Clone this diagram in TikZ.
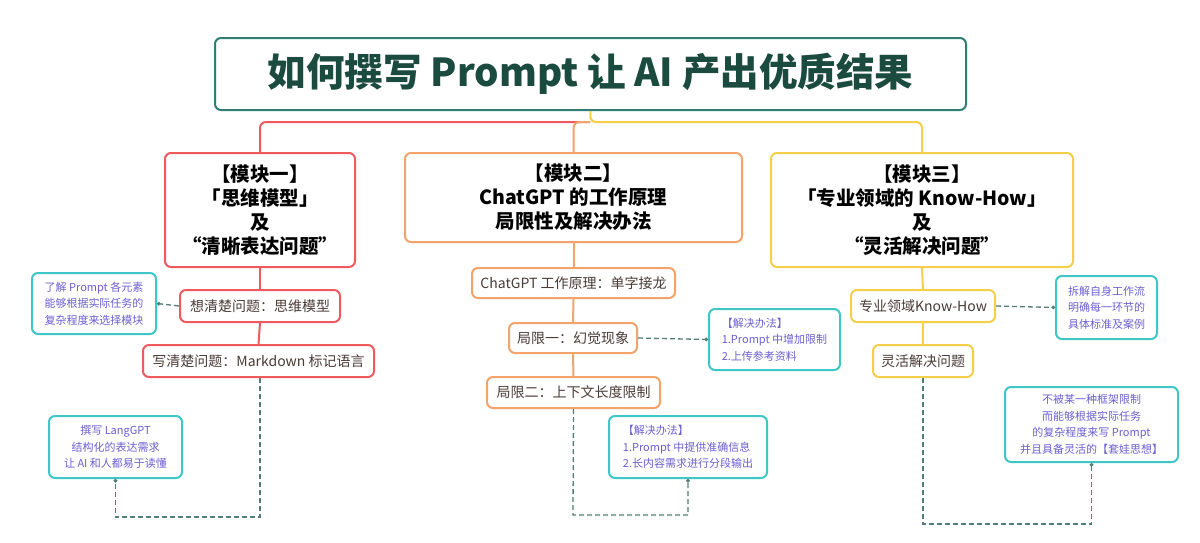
\documentclass[tikz,border=0pt]{standalone}
\usepackage{fontspec}
\setmainfont{Noto Sans CJK SC}
\usetikzlibrary{arrows.meta}
\definecolor{titleB}{HTML}{2F7D74}
\definecolor{titleT}{HTML}{1B4A3E}
\definecolor{redc}{HTML}{EF5A5F}
\definecolor{orac}{HTML}{F3A46A}
\definecolor{yelc}{HTML}{F5CF4A}
\definecolor{tealc}{HTML}{3FC6C6}
\definecolor{notet}{HTML}{6D5FD0}
\definecolor{dashc}{HTML}{4F7F76}
\definecolor{childt}{HTML}{4A3B36}
\tikzset{
  box/.style={draw, line width=2pt, rounded corners=6pt, inner sep=0pt, fill=white},
  modbox/.style={box, align=center, font=\fontsize{19.5}{24}\selectfont\bfseries, text=black},
  kidbox/.style={box, align=center, font=\fontsize{14}{16}\selectfont, text=childt},
  notebox/.style={box, draw=tealc, font=\fontsize{11}{16.5}\selectfont, text=notet},
  link/.style={line width=2pt, rounded corners=6pt},
  dlink/.style={draw=dashc, line width=1.3pt, dash pattern=on 5pt off 3pt, -{Circle[length=3.5pt]}},
}
\begin{document}
\begin{tikzpicture}[x=1pt,y=-1pt]
\useasboundingbox[fill=white] (0,0) rectangle (1200,542);
% title
\node[box, draw=titleB, minimum width=751, minimum height=72, text=titleT,
  font=\fontsize{38.5}{40}\selectfont\bfseries] (title) at (590.5,74) {如何撰写 Prompt 让 AI 产出优质结果};
% modules
\node[modbox, draw=redc, minimum width=190, minimum height=114] (m1) at (260,210)
  {【模块一】\\「思维模型」\\及\\“清晰表达问题”};
\node[modbox, draw=orac, minimum width=337, minimum height=89] (m2) at (573.5,197.5)
  {【模块二】\\ChatGPT 的工作原理\\局限性及解决办法};
\node[modbox, draw=yelc, minimum width=302, minimum height=114] (m3) at (922,210)
  {【模块三】\\「专业领域的 Know-How」\\及\\“灵活解决问题”};
\coordinate (j) at (590,122);
\draw[link, draw=redc] (m1.north) |- (j);
\draw[link, draw=orac] (m2.north) |- (j);
\draw[link, draw=yelc] (title.south) -- (j) -| (m3.north);
% module 1 children
\node[kidbox, draw=redc, minimum width=160, minimum height=32] (k11) at (260,306) {想清楚问题：思维模型};
\node[kidbox, draw=redc, minimum width=231, minimum height=32] (k12) at (258.5,361) {写清楚问题：Markdown 标记语言};
\draw[link, draw=redc] (m1.south) -- (k11.north);
\draw[link, draw=redc] (k11.south) -- (k12.north);
\node[notebox, align=center, minimum width=124, minimum height=61] (n11) at (94,303.5)
  {了解 Prompt 各元素\\能够根据实际任务的\\复杂程度来选择模块};
\node[notebox, align=center, minimum width=133, minimum height=62] (n12) at (115.5,447)
  {撰写 LangGPT\\结构化的表达需求\\让 AI 和人都易于读懂};
\draw[dlink] (k11.west) -- (n11.east);
\draw[dlink] (k12.south -| 260,0) -- (260,517) -| (n12.south);
% module 2 children
\node[kidbox, draw=orac, minimum width=203, minimum height=30] (k21) at (573.5,283) {ChatGPT 工作原理：单字接龙};
\node[kidbox, draw=orac, minimum width=128, minimum height=30] (k22) at (573,338) {局限一：幻觉现象};
\node[kidbox, draw=orac, minimum width=173, minimum height=31] (k23) at (573.5,392.5) {局限二：上下文长度限制};
\draw[link, draw=orac] (m2.south) -- (k21.north);
\draw[link, draw=orac] (k21.south) -- (k22.north);
\draw[link, draw=orac] (k22.south) -- (k23.north);
\node[notebox, align=left, minimum width=131, minimum height=61] (n21) at (774.5,339.5)
  {【解决办法】\\1.Prompt 中增加限制\\2.上传参考资料};
\node[notebox, align=left, minimum width=158, minimum height=62] (n22) at (688,447)
  {【解决办法】\\1.Prompt 中提供准确信息\\2.长内容需求进行分段输出};
\draw[dlink] (k22.east) -- (n21.west);
\draw[dlink] (k23.south) -- (573,515) -| (n22.south);
% module 3 children
\node[kidbox, draw=yelc, minimum width=144, minimum height=32] (k31) at (923,306) {专业领域Know-How};
\node[kidbox, draw=yelc, minimum width=100, minimum height=32] (k32) at (923,361) {灵活解决问题};
\draw[link, draw=yelc] (m3.south) -- (k31.north);
\draw[link, draw=yelc] (k31.south) -- (k32.north);
\node[notebox, align=center, minimum width=101, minimum height=63] (n31) at (1106.5,307.5)
  {拆解自身工作流\\明确每一环节的\\具体标准及案例};
\node[notebox, align=center, minimum width=173, minimum height=75] (n32) at (1091.5,424.5)
  {不被某一种框架限制\\而能够根据实际任务\\的复杂程度来写 Prompt\\并且具备灵活的【套娃思想】};
\draw[dlink] (k31.east) -- (n31.west);
\draw[dlink] (k32.south) -- (923,524) -| (n32.south);
\end{tikzpicture}
\end{document}
